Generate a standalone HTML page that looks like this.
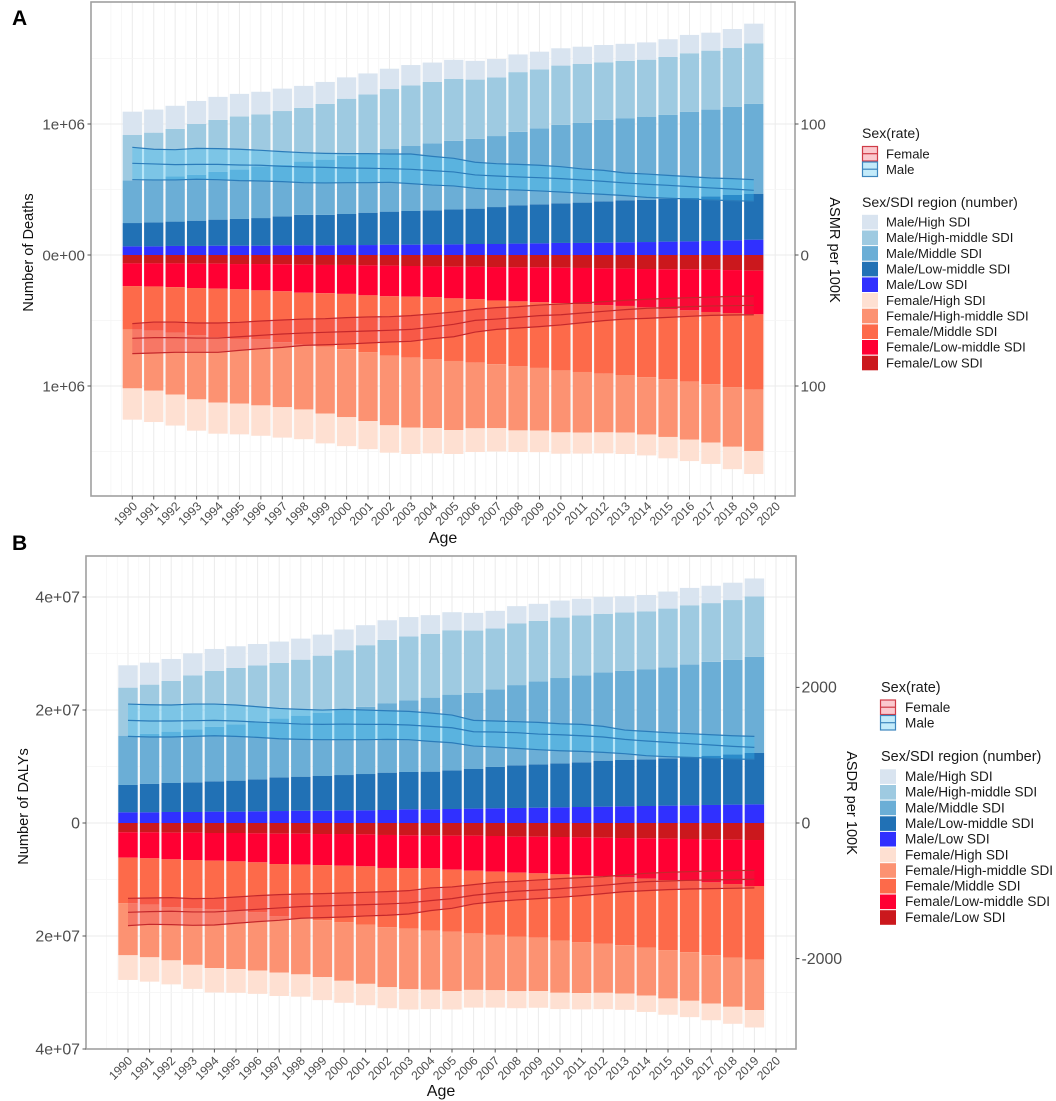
<!DOCTYPE html>
<html>
<head>
<meta charset="utf-8">
<title>Deaths and DALYs by sex and SDI region</title>
<style>
html,body{margin:0;padding:0;background:#fff;}
svg{display:block;font-family:"Liberation Sans",sans-serif;filter:blur(0.35px);}
.lg{font-size:13.1px;fill:#1a1a1a;}
.lt{font-size:14.1px;fill:#1a1a1a;}
.lgb{font-size:13.6px;fill:#1a1a1a;}
.ltb{font-size:14.5px;fill:#1a1a1a;}
.at{font-size:14.6px;fill:#111;}
.tag{font-size:21px;font-weight:bold;fill:#000;}
</style>
</head>
<body>
<svg id="fig" xmlns="http://www.w3.org/2000/svg" width="1056" height="1101" viewBox="0 0 1056 1101">
<rect width="1056" height="1101" fill="#fff"/>
<g id="panelA"></g>
<g id="panelB"></g>

<text class="tag" x="12" y="25">A</text>
<text class="tag" x="12" y="550">B</text>

<text class="at" transform="translate(33,252.5) rotate(-90)" text-anchor="middle">Number of Deaths</text>
<text class="at" transform="translate(830,250) rotate(90)" text-anchor="middle">ASMR per 100K</text>
<text class="at" style="font-size:16px" x="443" y="543" text-anchor="middle">Age</text>

<text class="at" transform="translate(28,806.5) rotate(-90)" text-anchor="middle">Number of DALYs</text>
<text class="at" transform="translate(847,803) rotate(90)" text-anchor="middle">ASDR per 100K</text>
<text class="at" style="font-size:16px" x="441" y="1096" text-anchor="middle">Age</text>

<!-- Legend A -->
<g>
<text class="lt" x="862" y="138">Sex(rate)</text>
<g><rect x="862.5" y="146.5" width="15" height="14.5" fill="#fbc9ce" stroke="#cf3b47" stroke-width="1.2"/><line x1="862.5" x2="877.5" y1="153.7" y2="153.7" stroke="#cf3b47" stroke-width="1.2"/><text class="lg" x="886" y="158.5">Female</text></g>
<g><rect x="862.5" y="162" width="15" height="14.5" fill="#c3ebfa" stroke="#3c86bd" stroke-width="1.2"/><line x1="862.5" x2="877.5" y1="169.2" y2="169.2" stroke="#3c86bd" stroke-width="1.2"/><text class="lg" x="886" y="174">Male</text></g>
<text class="lt" x="862" y="207">Sex/SDI region (number)</text>
<g><rect x="862" y="214.8" width="16" height="14.6" fill="#d9e4f0"/><text class="lg" x="886" y="226.5">Male/High SDI</text></g>
<g><rect x="862" y="230.5" width="16" height="14.6" fill="#9ecae1"/><text class="lg" x="886" y="242.2">Male/High-middle SDI</text></g>
<g><rect x="862" y="246.1" width="16" height="14.6" fill="#6baed6"/><text class="lg" x="886" y="257.8">Male/Middle SDI</text></g>
<g><rect x="862" y="261.8" width="16" height="14.6" fill="#2171b5"/><text class="lg" x="886" y="273.5">Male/Low-middle SDI</text></g>
<g><rect x="862" y="277.4" width="16" height="14.6" fill="#3030ff"/><text class="lg" x="886" y="289.1">Male/Low SDI</text></g>
<g><rect x="862" y="293.1" width="16" height="14.6" fill="#fee0d2"/><text class="lg" x="886" y="304.8">Female/High SDI</text></g>
<g><rect x="862" y="308.7" width="16" height="14.6" fill="#fc9272"/><text class="lg" x="886" y="320.4">Female/High-middle SDI</text></g>
<g><rect x="862" y="324.4" width="16" height="14.6" fill="#fd6a4a"/><text class="lg" x="886" y="336.1">Female/Middle SDI</text></g>
<g><rect x="862" y="340" width="16" height="14.6" fill="#ff0033"/><text class="lg" x="886" y="351.7">Female/Low-middle SDI</text></g>
<g><rect x="862" y="355.7" width="16" height="14.6" fill="#cb181d"/><text class="lg" x="886" y="367.4">Female/Low SDI</text></g>
</g>

<!-- Legend B -->
<g>
<text class="ltb" x="881" y="692">Sex(rate)</text>
<g><rect x="880.5" y="700" width="15" height="14.5" fill="#fbc9ce" stroke="#cf3b47" stroke-width="1.2"/><line x1="880.5" x2="895.5" y1="707.2" y2="707.2" stroke="#cf3b47" stroke-width="1.2"/><text class="lgb" x="905" y="712">Female</text></g>
<g><rect x="880.5" y="715.5" width="15" height="14.5" fill="#c3ebfa" stroke="#3c86bd" stroke-width="1.2"/><line x1="880.5" x2="895.5" y1="722.7" y2="722.7" stroke="#3c86bd" stroke-width="1.2"/><text class="lgb" x="905" y="727.5">Male</text></g>
<text class="ltb" x="881" y="761">Sex/SDI region (number)</text>
<g><rect x="880" y="769.3" width="16" height="14.6" fill="#d9e4f0"/><text class="lgb" x="905" y="781">Male/High SDI</text></g>
<g><rect x="880" y="785" width="16" height="14.6" fill="#9ecae1"/><text class="lgb" x="905" y="796.7">Male/High-middle SDI</text></g>
<g><rect x="880" y="800.6" width="16" height="14.6" fill="#6baed6"/><text class="lgb" x="905" y="812.3">Male/Middle SDI</text></g>
<g><rect x="880" y="816.3" width="16" height="14.6" fill="#2171b5"/><text class="lgb" x="905" y="828">Male/Low-middle SDI</text></g>
<g><rect x="880" y="831.9" width="16" height="14.6" fill="#3030ff"/><text class="lgb" x="905" y="843.6">Male/Low SDI</text></g>
<g><rect x="880" y="847.6" width="16" height="14.6" fill="#fee0d2"/><text class="lgb" x="905" y="859.3">Female/High SDI</text></g>
<g><rect x="880" y="863.2" width="16" height="14.6" fill="#fc9272"/><text class="lgb" x="905" y="874.9">Female/High-middle SDI</text></g>
<g><rect x="880" y="878.9" width="16" height="14.6" fill="#fd6a4a"/><text class="lgb" x="905" y="890.6">Female/Middle SDI</text></g>
<g><rect x="880" y="894.5" width="16" height="14.6" fill="#ff0033"/><text class="lgb" x="905" y="906.2">Female/Low-middle SDI</text></g>
<g><rect x="880" y="910.2" width="16" height="14.6" fill="#cb181d"/><text class="lgb" x="905" y="921.9">Female/Low SDI</text></g>
</g>
</svg>

<script>
// ---------- shared categories ----------
const years = [1990,1991,1992,1993,1994,1995,1996,1997,1998,1999,2000,2001,2002,2003,2004,2005,2006,2007,2008,2009,2010,2011,2012,2013,2014,2015,2016,2017,2018,2019];
const xTickLabels = ["1990","1991","1992","1993","1994","1995","1996","1997","1998","1999","2000","2001","2002","2003","2004","2005","2006","2007","2008","2009","2010","2011","2012","2013","2014","2015","2016","2017","2018","2019","2020"];

// ---------- Panel A: deaths in thousands ----------
const deathsMaleLow = [66,66,69,69,71,71,71,74,74,74,76,76,79,79,81,81,84,84,87,89,92,92,94,97,99,102,104,107,112,117];
const deathsMaleLowMiddle = [178,183,186,193,199,204,211,221,232,232,237,247,252,257,260,267,270,282,293,298,303,308,316,321,323,328,331,341,346,351];
const deathsMaleMiddle = [326,321,344,351,364,377,394,394,407,422,445,453,478,496,512,524,532,542,560,580,598,608,621,624,634,639,657,662,672,685];
const deathsMaleHighMiddle = [346,364,364,387,397,405,397,410,410,425,435,450,458,463,468,473,453,448,456,450,453,450,440,440,435,443,448,450,450,463];
const deathsMaleHigh = [178,176,176,176,176,173,173,171,168,168,163,160,155,155,148,145,143,140,135,135,132,132,132,130,132,135,140,137,145,150];
const deathsFemaleLow = [64,64,64,66,66,69,69,71,74,76,76,79,81,84,87,89,89,92,94,94,97,99,102,104,107,109,109,112,115,120];
const deathsFemaleLowMiddle = [173,176,181,186,191,193,201,206,214,216,221,229,234,234,234,242,249,255,260,267,270,275,280,285,293,303,313,323,328,333];
const deathsFemaleMiddle = [331,338,349,359,369,379,374,389,397,407,422,433,453,466,473,478,484,486,496,501,514,519,524,527,532,537,545,552,565,575];
const deathsFemaleHighMiddle = [450,458,471,491,501,494,504,496,494,512,519,527,532,534,527,527,501,489,489,478,473,463,448,440,438,440,443,445,456,468];
const deathsFemaleHigh = [239,239,237,239,237,234,232,232,227,227,221,214,209,201,193,183,181,178,165,165,163,160,160,163,160,163,163,163,171,176];
// ASMR per 100K (upper, mean, lower); female plotted downward
const asmrMaleUpper = [82.2,80.7,80.4,81.4,81.2,80.7,79.9,78.9,78.1,77.6,77.4,77.4,77.1,77.1,75.3,73.8,70.8,69.7,69.2,68.5,67.4,65.7,64.6,62.6,61.8,60.8,59.8,58.8,58.3,57.5];
const asmrMaleMean = [70.0,69.5,69.0,69.2,69.2,68.7,68.5,67.7,67.2,66.9,66.4,66.2,65.9,65.4,64.4,63.4,61.1,60.3,59.6,59.0,58.3,57.3,56.2,55.0,54.0,53.2,52.2,51.2,50.4,49.4];
const asmrMaleLower = [57.5,57.3,57.3,57.8,57.5,56.8,56.5,56.0,55.2,55.0,55.2,55.2,55.5,54.5,53.4,52.7,50.9,50.1,49.6,48.9,48.1,47.1,46.3,45.3,44.0,43.3,42.8,42.0,41.5,41.0];
const asmrFemaleLower = [52.4,51.2,51.2,51.9,51.9,51.4,50.4,49.6,48.9,48.6,47.8,47.3,47.1,46.3,45.0,43.5,41.5,40.2,39.4,38.2,37.4,36.6,35.6,34.6,33.8,33.1,32.6,32.1,31.6,31.3];
const asmrFemaleMean = [63.6,63.1,63.1,63.4,63.4,62.4,61.3,60.3,59.6,59.0,58.5,58.0,57.5,56.8,55.0,52.9,49.9,48.9,47.6,46.3,45.6,44.3,43.0,41.7,40.7,40.2,39.4,38.9,38.7,38.4];
const asmrFemaleUpper = [75.3,74.8,74.3,74.3,74.3,72.8,71.5,70.5,69.0,68.5,68.0,67.2,66.4,65.9,63.9,62.4,58.8,56.8,55.7,54.7,53.4,51.7,50.1,48.9,48.4,47.6,46.8,46.1,45.8,45.6];
const deathsTickValues = [1000,0,-1000];
const deathsTickLabels = ["1e+06","0e+00","1e+06"];
const deathsMinorTicks = [1500,500,-500,-1500];
const asmrTickValues = [100,0,-100];
const asmrTickLabels = ["100","0","100"];

// ---------- Panel B: DALYs in millions ----------
const dalysMaleLow = [1.89,1.89,1.95,1.95,2.01,2.01,2.07,2.12,2.18,2.18,2.24,2.24,2.30,2.42,2.42,2.48,2.54,2.60,2.66,2.71,2.77,2.83,2.89,2.95,3.01,3.07,3.13,3.19,3.25,3.30];
const dalysMaleLowMiddle = [4.84,5.02,5.13,5.25,5.37,5.49,5.66,5.96,6.02,6.14,6.25,6.43,6.61,6.61,6.67,6.84,7.02,7.32,7.55,7.67,7.79,7.91,8.14,8.20,8.26,8.38,8.61,8.73,8.91,9.09];
const dalysMaleMiddle = [8.73,8.85,9.09,9.38,9.62,9.97,10.2,10.4,10.8,11.2,11.5,11.9,12.3,12.7,13.1,13.4,13.5,13.7,14.2,14.7,15.1,15.4,15.6,15.8,15.9,16.1,16.3,16.6,16.7,17.0];
const dalysMaleHighMiddle = [8.50,8.73,8.97,9.56,9.91,9.97,9.97,9.85,9.91,10.1,10.6,10.9,11.2,11.3,11.3,11.4,11.0,10.8,10.9,10.7,10.7,10.6,10.4,10.3,10.3,10.4,10.5,10.4,10.6,10.7];
const dalysMaleHigh = [3.95,3.89,3.89,3.89,3.89,3.84,3.78,3.78,3.72,3.72,3.66,3.54,3.48,3.42,3.30,3.19,3.13,3.13,3.07,3.01,3.01,2.95,3.01,2.89,2.89,3.01,3.07,3.07,3.07,3.19];
const dalysFemaleLow = [1.65,1.65,1.71,1.71,1.77,1.77,1.83,1.89,1.89,1.95,1.95,2.01,2.12,2.18,2.24,2.24,2.24,2.30,2.42,2.42,2.48,2.54,2.60,2.66,2.71,2.77,2.83,2.89,2.95,3.01];
const dalysFemaleLowMiddle = [4.48,4.60,4.72,4.84,4.90,5.02,5.13,5.37,5.49,5.49,5.61,5.66,5.84,5.84,5.78,6.02,6.20,6.31,6.37,6.49,6.61,6.73,6.79,6.96,7.14,7.32,7.43,7.61,7.85,8.14];
const dalysFemaleMiddle = [8.08,8.20,8.50,8.56,8.61,8.67,8.85,9.26,9.56,9.74,9.97,10.3,10.5,10.7,11.0,11.0,11.1,11.2,11.3,11.4,11.7,11.8,12.0,12.0,12.2,12.4,12.6,12.9,13.0,13.0];
const dalysFemaleHighMiddle = [9.20,9.32,9.38,10.0,10.4,10.4,10.3,9.97,9.85,10.1,10.4,10.5,10.6,10.7,10.5,10.5,10.0,9.79,9.68,9.44,9.26,9.03,8.67,8.56,8.50,8.56,8.61,8.56,8.73,8.97];
const dalysFemaleHigh = [4.37,4.31,4.25,4.25,4.31,4.19,4.13,4.13,3.95,4.07,3.89,3.78,3.72,3.60,3.42,3.25,3.13,3.07,3.01,2.95,2.89,2.89,2.89,2.89,2.89,2.89,2.89,2.95,3.01,3.07];
// ASDR per 100K
const asdrMaleUpper = [1754,1744,1740,1754,1754,1740,1715,1690,1676,1666,1676,1666,1656,1646,1622,1592,1514,1504,1494,1484,1464,1455,1425,1371,1351,1332,1317,1302,1287,1278];
const asdrMaleMean = [1514,1504,1504,1509,1514,1504,1489,1474,1459,1455,1459,1455,1455,1445,1425,1405,1346,1342,1332,1312,1302,1287,1268,1233,1209,1189,1170,1150,1130,1115];
const asdrMaleLower = [1278,1268,1268,1278,1287,1278,1263,1243,1233,1229,1229,1229,1233,1229,1204,1184,1135,1120,1101,1081,1066,1057,1042,1022,993,978,968,953,943,939];
const asdrFemaleLower = [1111,1106,1101,1115,1111,1091,1071,1057,1047,1042,1032,1022,1012,998,958,943,909,875,860,840,821,806,791,767,742,727,717,708,703,698];
const asdrFemaleMean = [1317,1307,1302,1312,1312,1292,1273,1253,1233,1224,1214,1204,1194,1179,1145,1115,1066,1032,1007,988,968,943,919,889,865,855,845,840,835,830];
const asdrFemaleUpper = [1514,1494,1499,1509,1504,1479,1455,1435,1405,1396,1386,1371,1361,1342,1292,1258,1194,1160,1135,1115,1096,1071,1042,1012,998,983,973,968,963,958];
const dalysTickValues = [40,20,0,-20,-40];
const dalysTickLabels = ["4e+07","2e+07","0","2e+07","4e+07"];
const dalysMinorTicks = [30,10,-10,-30];
const asdrTickValues = [2000,0,-2000];
const asdrTickLabels = ["2000","0","-2000"];

const NS = "http://www.w3.org/2000/svg";
function mk(parent, tag, attrs, text){
  const el = document.createElementNS(NS, tag);
  for (const k in attrs) el.setAttribute(k, attrs[k]);
  if (text !== undefined) el.textContent = text;
  parent.appendChild(el);
  return el;
}

function drawPanel(root, p){
  const gridG = mk(root, "g", {});
  
  
  // vertical grid
  for (let t = 1989; t <= 2020.5; t += 0.5){
    const major = t >= 1990 && Number.isInteger(t);
    const gl = mk(gridG, "line", {x1:p.x(t), x2:p.x(t), y1:p.top, y2:p.bottom, stroke: major ? "#ebebeb" : "#f4f4f4", "stroke-width": major ? 1 : 0.7});
    
    
  }
  // horizontal grid
  p.minor.forEach(v => {
    const gl = mk(gridG, "line", {x1:p.left, x2:p.right, y1:p.y(v), y2:p.y(v), stroke:"#f4f4f4", "stroke-width":0.8});
    
    
  });
  p.ticks.forEach(v => {
    const gl = mk(gridG, "line", {x1:p.left, x2:p.right, y1:p.y(v), y2:p.y(v), stroke:"#ebebeb", "stroke-width":1});
    
    
  });

  // stacked bars
  const barW = p.band * 0.9;
  p.stacks.forEach(stack => {
    years.forEach((yr, i) => {
      let cum = 0;
      stack.series.forEach(s => {
        const a = cum, b = cum + s.values[i];
        cum = b;
        const y1 = p.y(stack.sign * a), y2 = p.y(stack.sign * b);
        const r = mk(root, "rect", {x:p.x(yr) - barW/2, y:Math.min(y1,y2), width:barW, height:Math.abs(y2-y1), fill:s.color});
        
        
      });
    });
  });

  // ribbons and lines
  p.rates.forEach(rt => {
    const pts = arr => arr.map((v,i) => p.x(years[i]).toFixed(2) + "," + p.yr(rt.sign * v).toFixed(2));
    const rib = mk(root, "polygon", {points: pts(rt.upper).concat(pts(rt.lower).reverse()).join(" "), fill: rt.fill, "fill-opacity": rt.alpha});
    
    
    [[rt.upper,'upper'],[rt.mean,'mean'],[rt.lower,'lower']].forEach(pair => {
      const ln = mk(root, "polyline", {points: pts(pair[0]).join(" "), fill:"none", stroke: rt.line, "stroke-width":1.2});
      
      
    });
  });

  // panel border
  const border = mk(root, "rect", {x:p.left, y:p.top, width:p.right-p.left, height:p.bottom-p.top, fill:"none", stroke:"#a0a0a0", "stroke-width":1.6});
  
  

  // left axis
  p.ticks.forEach((v,i) => {
    const tk = mk(root, "line", {x1:p.left-3.5, x2:p.left, y1:p.y(v), y2:p.y(v), stroke:"#555", "stroke-width":1});
    
    
    const lb = mk(root, "text", {x:p.left-6, y:p.y(v)+5.3, "text-anchor":"end", "font-size":p.tickFont, fill:"#4d4d4d"}, p.tickLabels[i]);
    
    
  });
  // right axis
  p.rateTicks.forEach((v,i) => {
    const tk = mk(root, "line", {x1:p.right, x2:p.right+3.5, y1:p.yr(v), y2:p.yr(v), stroke:"#555", "stroke-width":1});
    
    
    const lb = mk(root, "text", {x:p.right+5.5, y:p.yr(v)+5.3, "font-size":p.tickFont, fill:"#4d4d4d"}, p.rateLabels[i]);
    
    
  });
  // x axis
  xTickLabels.forEach(lbl => {
    const yr = +lbl, xx = p.x(yr);
    const tk = mk(root, "line", {x1:xx, x2:xx, y1:p.bottom, y2:p.bottom+3.5, stroke:"#555", "stroke-width":1});
    
    
    const lb = mk(root, "text", {transform:"translate(" + (xx+p.labelDx) + "," + (p.bottom+p.labelDy) + ") rotate(-45)", "text-anchor":"end", "font-size":12.2, fill:"#4d4d4d"}, lbl);
    
    
  });
}

const colors = {mh:"#d9e4f0", mhm:"#9ecae1", mm:"#6baed6", mlm:"#2171b5", ml:"#3030ff", fh:"#fee0d2", fhm:"#fc9272", fm:"#fd6a4a", flm:"#ff0033", fl:"#cb181d"};

function xAxisA(t){ return 132.3 + (t - 1990) * 21.43; }
function yAxisA(v){ return 255 - v * 0.131; }
function rateAxisA(v){ return 255 - v * 1.31; }
drawPanel(document.getElementById("panelA"), {
  id:"panel-a", left:91, right:795, top:2, bottom:496, band:21.43,
  tickFont:15.2, labelDx:5.7, labelDy:11,
  x:xAxisA, y:yAxisA, yr:rateAxisA,
  ticks:deathsTickValues, tickLabels:deathsTickLabels, minor:deathsMinorTicks,
  rateTicks:asmrTickValues, rateLabels:asmrTickLabels,
  stacks:[
    {sign:1, series:[
      {name:"male-low", values:deathsMaleLow, color:colors.ml},
      {name:"male-low-middle", values:deathsMaleLowMiddle, color:colors.mlm},
      {name:"male-middle", values:deathsMaleMiddle, color:colors.mm},
      {name:"male-high-middle", values:deathsMaleHighMiddle, color:colors.mhm},
      {name:"male-high", values:deathsMaleHigh, color:colors.mh}]},
    {sign:-1, series:[
      {name:"female-low", values:deathsFemaleLow, color:colors.fl},
      {name:"female-low-middle", values:deathsFemaleLowMiddle, color:colors.flm},
      {name:"female-middle", values:deathsFemaleMiddle, color:colors.fm},
      {name:"female-high-middle", values:deathsFemaleHighMiddle, color:colors.fhm},
      {name:"female-high", values:deathsFemaleHigh, color:colors.fh}]}
  ],
  rates:[
    {name:"male", sign:1, upper:asmrMaleUpper, mean:asmrMaleMean, lower:asmrMaleLower, fill:"#3cbef0", alpha:0.35, line:"#2b7cba"},
    {name:"female", sign:-1, upper:asmrFemaleUpper, mean:asmrFemaleMean, lower:asmrFemaleLower, fill:"#e62840", alpha:0.25, line:"#c4282c"}
  ]
});

function xAxisB(t){ return 128 + (t - 1990) * 21.6; }
function yAxisB(v){ return 823 - v * 5.65; }
function rateAxisB(v){ return 823 - v * 0.0678; }
drawPanel(document.getElementById("panelB"), {
  id:"panel-b", left:86, right:796, top:556, bottom:1049, band:21.6,
  tickFont:15.9, labelDx:5, labelDy:12.5,
  x:xAxisB, y:yAxisB, yr:rateAxisB,
  ticks:dalysTickValues, tickLabels:dalysTickLabels, minor:dalysMinorTicks,
  rateTicks:asdrTickValues, rateLabels:asdrTickLabels,
  stacks:[
    {sign:1, series:[
      {name:"male-low", values:dalysMaleLow, color:colors.ml},
      {name:"male-low-middle", values:dalysMaleLowMiddle, color:colors.mlm},
      {name:"male-middle", values:dalysMaleMiddle, color:colors.mm},
      {name:"male-high-middle", values:dalysMaleHighMiddle, color:colors.mhm},
      {name:"male-high", values:dalysMaleHigh, color:colors.mh}]},
    {sign:-1, series:[
      {name:"female-low", values:dalysFemaleLow, color:colors.fl},
      {name:"female-low-middle", values:dalysFemaleLowMiddle, color:colors.flm},
      {name:"female-middle", values:dalysFemaleMiddle, color:colors.fm},
      {name:"female-high-middle", values:dalysFemaleHighMiddle, color:colors.fhm},
      {name:"female-high", values:dalysFemaleHigh, color:colors.fh}]}
  ],
  rates:[
    {name:"male", sign:1, upper:asdrMaleUpper, mean:asdrMaleMean, lower:asdrMaleLower, fill:"#3cbef0", alpha:0.35, line:"#2b7cba"},
    {name:"female", sign:-1, upper:asdrFemaleUpper, mean:asdrFemaleMean, lower:asdrFemaleLower, fill:"#e62840", alpha:0.25, line:"#c4282c"}
  ]
});
</script>
</body>
</html>
